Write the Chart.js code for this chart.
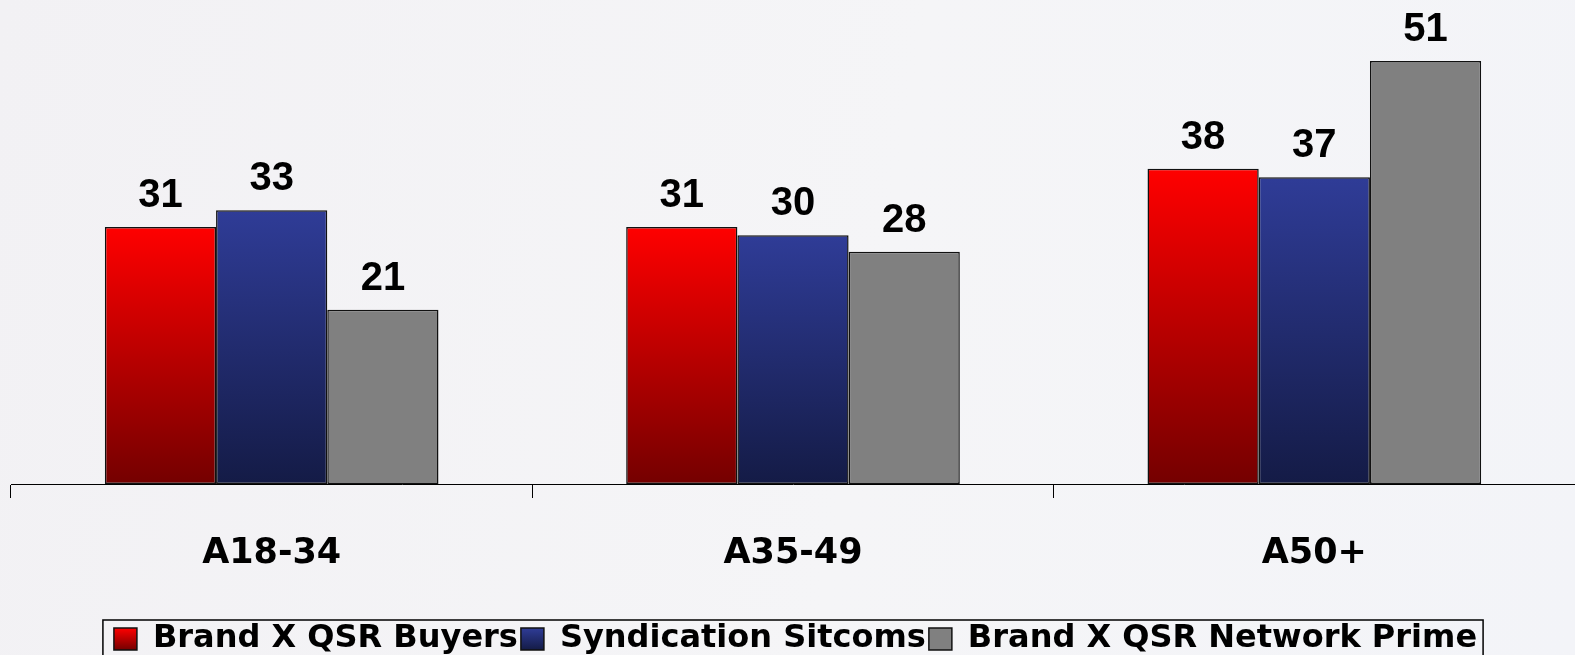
<!DOCTYPE html>
<html>
<head>
<meta charset="utf-8">
<script src="https://cdn.jsdelivr.net/npm/chart.js@4.4.0/dist/chart.umd.min.js"></script>
<style>
  html, body { margin: 0; padding: 0; }
  body {
    width: 1575px; height: 655px; overflow: hidden;
    background: linear-gradient(100deg, #f2f1f4 0%, #f5f5f7 55%, #f3f4f8 100%);
  }
  #wrap { position: relative; width: 1575px; height: 655px; }
</style>
</head>
<body>
<div id="wrap"><canvas id="barChart"></canvas></div>
<script>
// data
var categories = ['A18-34', 'A35-49', 'A50+']
var seriesNames = ['Brand X QSR Buyers', 'Syndication Sitcoms', 'Brand X QSR Network Prime']
var buyers = [31, 31, 38]
var sitcoms = [33, 30, 37]
var networkPrime = [21, 28, 51]

// gradient stops (top colour, bottom colour) for each series
var topColors = ['#ff0000', '#2f3c97', '#808080']
var bottomColors = ['#740000', '#141b46', '#808080']

function barGradient(ctx, idx) {
  var chart = ctx.chart
  var y = chart.scales.y
  if (!chart.chartArea || !y || ctx.raw === undefined) return topColors[idx]
  var top = y.getPixelForValue(ctx.raw)
  var bottom = y.getPixelForValue(0)
  var g = chart.ctx.createLinearGradient(0, top, 0, bottom)
  g.addColorStop(0, topColors[idx])
  g.addColorStop(1, bottomColors[idx])
  return g
}

// numbers above the bars
var valueLabels = {
  id: 'valueLabels',
  afterDatasetsDraw: function (chart) {
    var ctx = chart.ctx
    ctx.save()
    ctx.font = 'bold 40px "Liberation Sans", Arial, sans-serif'
    ctx.fillStyle = '#000'
    ctx.textAlign = 'center'
    ctx.textBaseline = 'alphabetic'
    chart.data.datasets.forEach(function (ds, i) {
      chart.getDatasetMeta(i).data.forEach(function (bar, j) {
        ctx.fillText(ds.data[j], bar.x, bar.y - 20)
      })
    })
    ctx.restore()
  }
}

// gradient legend boxes and the frame round the legend
var legendFrame = {
  id: 'legendFrame',
  beforeDraw: function (chart) {
    var lg = chart.legend
    if (!lg || !lg.legendHitBoxes) return
    lg.legendItems.forEach(function (item, i) {
      var hb = lg.legendHitBoxes[i]
      if (!hb) return
      var g = chart.ctx.createLinearGradient(0, hb.top + 5, 0, hb.top + hb.height - 5)
      g.addColorStop(0, topColors[i])
      g.addColorStop(1, bottomColors[i])
      item.fillStyle = g
    })
  },
  afterDraw: function (chart) {
    var lg = chart.legend
    if (!lg || !lg.legendHitBoxes || !lg.legendHitBoxes.length) return
    var hbs = lg.legendHitBoxes
    var left = hbs[0].left - 11
    var last = hbs[hbs.length - 1]
    var right = last.left + last.width + 6
    var top = hbs[0].top - 3
    var bottom = hbs[0].top + 35.5
    var ctx = chart.ctx
    ctx.save()
    ctx.strokeStyle = '#000'
    ctx.lineWidth = 1.5
    ctx.strokeRect(left, top, right - left, bottom - top)
    ctx.restore()
  }
}

var datasets = [buyers, sitcoms, networkPrime].map(function (vals, i) {
  return {
    label: seriesNames[i],
    data: vals,
    backgroundColor: function (ctx) { return barGradient(ctx, i) },
    borderColor: '#111',
    borderWidth: 1.5,
    borderSkipped: false,
    categoryPercentage: 0.64,
    barPercentage: 1.0
  }
})

var ctx = document.getElementById('barChart').getContext('2d')
var barChart = new Chart(ctx, {
  type: 'bar',
  data: { labels: categories, datasets: datasets },
  plugins: [valueLabels, legendFrame],
  options: {
    responsive: true,
    maintainAspectRatio: false,
    animation: false,
    layout: { padding: { left: 11, right: -5, top: 3, bottom: -10 } },
    scales: {
      x: {
        grid: {
          offset: true,
          drawOnChartArea: false,
          drawTicks: true,
          tickLength: 14,
          color: '#000',
          lineWidth: 1
        },
        border: { display: true, color: '#000', width: 1 },
        ticks: {
          color: '#000',
          padding: 35,
          font: { family: 'DejaVu Sans', weight: 'bold', size: 35 }
        },
        afterFit: function (scale) { scale.height = 136 }
      },
      y: {
        display: false,
        min: 0,
        max: 58
      }
    },
    plugins: {
      tooltip: { enabled: false },
      legend: {
        position: 'bottom',
        labels: {
          color: '#000',
          boxWidth: 23,
          boxHeight: 22,
          padding: 3,
          font: { family: 'DejaVu Sans', weight: 'bold', size: 32 }
        }
      }
    }
  }
})
</script>
</body>
</html>
